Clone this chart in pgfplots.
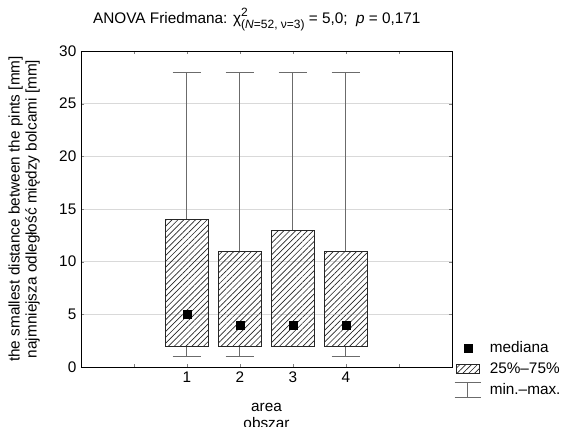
\documentclass[border=0pt]{standalone}
\usepackage{pgfplots}
\pgfplotsset{compat=1.18}
\usepgfplotslibrary{statistics}
\usetikzlibrary{patterns.meta}
\usepackage{fontspec}
\setmainfont{Liberation Sans}
\newcommand\fs{\fontsize{11.5}{12.75}\selectfont}
\tikzset{hatch/.style={pattern={Lines[angle=45,distance=3.1pt,line width=0.5pt]},pattern color=black!85}}
\definecolor{whisk}{gray}{0.42}

\begin{document}
\begin{tikzpicture}
\useasboundingbox (-60.75pt,-45pt) rectangle (363pt,275.25pt);
\begin{axis}[
  scale only axis, width=278.25pt, height=237pt,
  xmin=-1, xmax=6, ymin=0, ymax=30,
  xtick={0,1,2,3,4,5}, xticklabels={,1,2,3,4,},
  ytick={0,5,10,15,20,25,30},
  ymajorgrids, grid style={gray!30, line width=0.4pt},
  tick align=inside, major tick length=2.5pt,
  axis line style={line width=0.6pt},
  font=\fs,
  /pgf/number format/assume math mode=true,
  tick label style={font=\fs},
  xlabel={area\\obszar},
  xlabel style={align=center, at={(axis description cs:0.5,-0.155)}, anchor=center, font=\fs},
  ylabel={the smallest distance between the pints [mm]\\najmniejsza odległość między bolcami [mm]},
  ylabel style={align=center, at={(axis description cs:-0.153,0.5)}, anchor=center, font=\fs},
  title={ANOVA Friedmana: χ\rlap{\raisebox{0.85ex}{\fontsize{9}{10}\selectfont 2}}\raisebox{-0.7ex}{\fontsize{9}{10}\selectfont (\textit{N}=52, ν=3)} = 5,0;\ \ \textit{p} = 0,171},
  title style={at={(axis description cs:0.474,1.063)}, anchor=base, font=\fs},
  boxplot/draw direction=y,
  boxplot/box extend=0.8,
  boxplot/whisker extend=0.54,
  boxplot/every box/.style={hatch, draw=black!85, line width=0.6pt},
  boxplot/every whisker/.style={draw=whisk, line width=0.75pt},
  boxplot/draw/median/.code={},
  legend style={at={(axis description cs:1.005,0.09)}, anchor=north west, draw=none, fill=none, font=\fs, row sep=2pt, column sep=4pt, inner sep=0pt, cells={anchor=west}},
]
\addplot[forget plot, boxplot prepared={draw position=1, lower whisker=1, lower quartile=2, median=5, upper quartile=14, upper whisker=28}] coordinates {};
\addplot[forget plot, boxplot prepared={draw position=2, lower whisker=1, lower quartile=2, median=4, upper quartile=11, upper whisker=28}] coordinates {};
\addplot[forget plot, boxplot prepared={draw position=3, lower whisker=2, lower quartile=2, median=4, upper quartile=13, upper whisker=28}, boxplot/draw/lower whisker/.code={}] coordinates {};
\addplot[forget plot, boxplot prepared={draw position=4, lower whisker=1, lower quartile=2, median=4, upper quartile=11, upper whisker=28}] coordinates {};
\addplot[only marks, mark=square*, mark size=3pt, black] coordinates {(1,5) (2,4) (3,4) (4,4)};
\addlegendentry{mediana}
\addlegendimage{legend image code/.code={\draw[hatch, draw=black!85, line width=0.5pt] (0pt,-3.5pt) rectangle (17pt,3.5pt);}}
\addlegendentry{25\%–75\%}
\addlegendimage{legend image code/.code={\draw[whisk, line width=0.75pt] (-1.5pt,5.5pt)--(18.5pt,5.5pt) (8.5pt,5.5pt)--(8.5pt,-5.5pt) (-1.5pt,-5.5pt)--(18.5pt,-5.5pt);}}
\addlegendentry{min.–max.}
\end{axis}
\end{tikzpicture}
\end{document}
